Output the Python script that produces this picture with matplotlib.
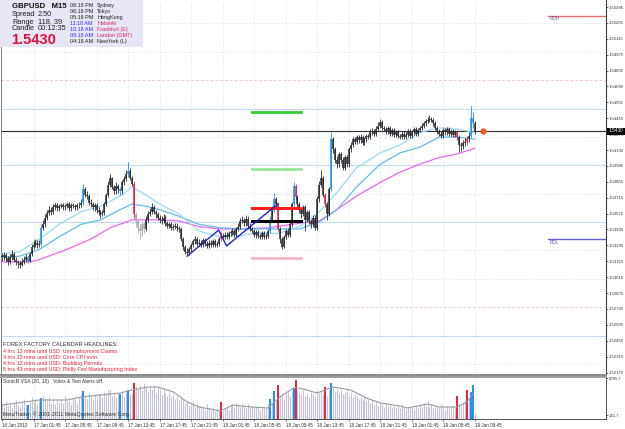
import numpy as np
import matplotlib
matplotlib.use("Agg")
import matplotlib.pyplot as plt
from matplotlib.patches import Rectangle

# ---------------- data ----------------
first_open = 1.5320
close = [
1.5319,1.5321,1.5318,1.5315,1.5319,1.5322,1.5317,1.5315,1.5314,1.5312,
1.5315,1.5317,1.5319,1.5316,1.5322,1.5328,1.5330,1.5332,1.5330,1.5331,
1.5345,1.5348,1.5354,1.5358,1.5361,1.5359,1.5363,1.5365,1.5362,1.5364,
1.5365,1.5363,1.5364,1.5366,1.5362,1.5365,1.5364,1.5363,1.5365,1.5365,
1.5367,1.5379,1.5374,1.5373,1.5367,1.5366,1.5363,1.5365,1.5361,1.5359,
1.5357,1.5358,1.5366,1.5374,1.5383,1.5389,1.5381,1.5377,1.5382,1.5379,
1.5377,1.5385,1.5388,1.5392,1.5395,1.5389,1.5384,1.5357,1.5351,1.5345,
1.5342,1.5348,1.5344,1.5352,1.5357,1.5359,1.5363,1.5359,1.5357,1.5354,
1.5352,1.5351,1.5354,1.5349,1.5347,1.5348,1.5345,1.5346,1.5347,1.5345,
1.5344,1.5335,1.5328,1.5324,1.5323,1.5326,1.5330,1.5333,1.5335,1.5331,
1.5332,1.5330,1.5334,1.5331,1.5329,1.5332,1.5330,1.5333,1.5330,1.5331,
1.5335,1.5338,1.5337,1.5339,1.5337,1.5340,1.5341,1.5342,1.5339,1.5344,
1.5346,1.5351,1.5352,1.5349,1.5353,1.5347,1.5344,1.5342,1.5339,1.5341,
1.5338,1.5337,1.5340,1.5337,1.5338,1.5342,1.5352,1.5361,1.5370,1.5366,
1.5344,1.5335,1.5328,1.5337,1.5342,1.5339,1.5348,1.5366,1.5382,1.5372,
1.5366,1.5361,1.5357,1.5363,1.5352,1.5359,1.5351,1.5348,1.5354,1.5345,
1.5370,1.5383,1.5389,1.5374,1.5366,1.5357,1.5379,1.5423,1.5414,1.5405,
1.5401,1.5410,1.5405,1.5398,1.5407,1.5401,1.5414,1.5418,1.5423,1.5421,
1.5425,1.5422,1.5425,1.5420,1.5423,1.5426,1.5425,1.5429,1.5430,1.5428,
1.5432,1.5435,1.5438,1.5433,1.5432,1.5430,1.5433,1.5428,1.5431,1.5427,
1.5429,1.5426,1.5425,1.5428,1.5425,1.5427,1.5430,1.5426,1.5429,1.5432,
1.5428,1.5431,1.5433,1.5435,1.5437,1.5439,1.5440,1.5441,1.5440,1.5437,
1.5433,1.5430,1.5428,1.5426,1.5431,1.5429,1.5432,1.5428,1.5430,1.5427,
1.5429,1.5425,1.5418,1.5417,1.5420,1.5421,1.5423,1.5426,1.5442,1.5437,
1.5430]
high = [
1.5323,1.5324,1.5323,1.5320,1.5322,1.5325,1.5324,1.5319,1.5317,1.5316,
1.5318,1.5320,1.5322,1.5321,1.5324,1.5331,1.5334,1.5335,1.5334,1.5334,
1.5348,1.5352,1.5357,1.5361,1.5364,1.5363,1.5366,1.5367,1.5367,1.5366,
1.5367,1.5367,1.5366,1.5368,1.5368,1.5367,1.5367,1.5366,1.5367,1.5368,
1.5370,1.5384,1.5381,1.5377,1.5375,1.5370,1.5368,1.5367,1.5367,1.5363,
1.5361,1.5361,1.5368,1.5376,1.5386,1.5392,1.5390,1.5383,1.5385,1.5384,
1.5381,1.5387,1.5391,1.5396,1.5403,1.5398,1.5391,1.5386,1.5359,1.5353,
1.5348,1.5351,1.5350,1.5355,1.5360,1.5362,1.5367,1.5365,1.5361,1.5359,
1.5356,1.5355,1.5357,1.5356,1.5351,1.5350,1.5350,1.5348,1.5349,1.5349,
1.5347,1.5346,1.5337,1.5330,1.5327,1.5328,1.5332,1.5335,1.5338,1.5337,
1.5335,1.5334,1.5336,1.5336,1.5333,1.5334,1.5334,1.5335,1.5335,1.5333,
1.5337,1.5341,1.5340,1.5341,1.5341,1.5342,1.5343,1.5345,1.5344,1.5346,
1.5349,1.5354,1.5355,1.5354,1.5356,1.5355,1.5349,1.5346,1.5344,1.5343,
1.5343,1.5340,1.5342,1.5342,1.5340,1.5344,1.5355,1.5364,1.5376,1.5372,
1.5368,1.5346,1.5337,1.5339,1.5344,1.5345,1.5350,1.5368,1.5385,1.5384,
1.5374,1.5368,1.5363,1.5365,1.5365,1.5361,1.5361,1.5353,1.5356,1.5356,
1.5373,1.5386,1.5396,1.5391,1.5376,1.5368,1.5381,1.5429,1.5425,1.5416,
1.5408,1.5412,1.5412,1.5407,1.5409,1.5409,1.5416,1.5421,1.5425,1.5425,
1.5427,1.5427,1.5428,1.5427,1.5425,1.5428,1.5428,1.5432,1.5433,1.5432,
1.5435,1.5438,1.5441,1.5440,1.5435,1.5434,1.5435,1.5435,1.5433,1.5433,
1.5431,1.5431,1.5428,1.5430,1.5430,1.5429,1.5432,1.5432,1.5431,1.5434,
1.5434,1.5433,1.5435,1.5437,1.5439,1.5441,1.5443,1.5444,1.5443,1.5442,
1.5439,1.5435,1.5432,1.5430,1.5433,1.5433,1.5434,1.5434,1.5432,1.5432,
1.5431,1.5431,1.5427,1.5421,1.5422,1.5424,1.5426,1.5429,1.5452,1.5447,
1.5439]
low = [
1.5316,1.5317,1.5315,1.5312,1.5313,1.5317,1.5315,1.5312,1.5310,1.5310,
1.5311,1.5313,1.5315,1.5314,1.5315,1.5320,1.5326,1.5328,1.5327,1.5328,
1.5329,1.5343,1.5346,1.5352,1.5356,1.5356,1.5357,1.5361,1.5360,1.5360,
1.5362,1.5361,1.5361,1.5362,1.5360,1.5360,1.5362,1.5361,1.5361,1.5362,
1.5363,1.5365,1.5372,1.5370,1.5365,1.5363,1.5361,1.5360,1.5358,1.5356,
1.5354,1.5355,1.5356,1.5364,1.5372,1.5381,1.5379,1.5375,1.5375,1.5376,
1.5374,1.5375,1.5383,1.5386,1.5390,1.5387,1.5382,1.5354,1.5346,1.5340,
1.5335,1.5338,1.5340,1.5342,1.5350,1.5355,1.5357,1.5357,1.5354,1.5352,
1.5349,1.5348,1.5349,1.5347,1.5345,1.5345,1.5343,1.5343,1.5344,1.5342,
1.5341,1.5333,1.5325,1.5322,1.5321,1.5321,1.5324,1.5328,1.5331,1.5329,
1.5329,1.5328,1.5328,1.5329,1.5327,1.5327,1.5328,1.5328,1.5328,1.5328,
1.5329,1.5333,1.5335,1.5335,1.5335,1.5335,1.5338,1.5339,1.5337,1.5337,
1.5342,1.5344,1.5349,1.5347,1.5347,1.5345,1.5342,1.5340,1.5337,1.5336,
1.5336,1.5335,1.5335,1.5335,1.5335,1.5336,1.5340,1.5350,1.5359,1.5363,
1.5342,1.5332,1.5326,1.5327,1.5335,1.5337,1.5337,1.5346,1.5364,1.5370,
1.5363,1.5358,1.5354,1.5355,1.5342,1.5350,1.5348,1.5345,1.5346,1.5343,
1.5343,1.5368,1.5381,1.5372,1.5363,1.5352,1.5355,1.5377,1.5411,1.5402,
1.5398,1.5399,1.5402,1.5396,1.5396,1.5399,1.5399,1.5412,1.5416,1.5419,
1.5419,1.5420,1.5420,1.5418,1.5418,1.5421,1.5423,1.5423,1.5427,1.5426,
1.5426,1.5430,1.5433,1.5431,1.5430,1.5428,1.5428,1.5426,1.5426,1.5425,
1.5425,1.5424,1.5423,1.5423,1.5423,1.5423,1.5425,1.5424,1.5424,1.5427,
1.5426,1.5426,1.5429,1.5431,1.5433,1.5435,1.5437,1.5438,1.5438,1.5435,
1.5431,1.5428,1.5426,1.5424,1.5424,1.5427,1.5427,1.5426,1.5426,1.5425,
1.5425,1.5422,1.5412,1.5413,1.5414,1.5417,1.5418,1.5421,1.5424,1.5433,
1.5428]

vsa_up = [13, 20, 41, 60, 64, 136, 138, 148, 167, 238, 239]
vsa_down = [67, 111, 140, 149, 164, 231, 236]
pale_bars = [68, 69, 70, 71, 72]

ma_bars = [0, 9, 19, 29, 40, 50, 60, 66, 73, 80, 90, 100, 111, 121, 131, 140,
           151, 161, 170, 180, 192, 202, 212, 222, 231, 240]
ma_fast = [1.5322, 1.5324, 1.5335, 1.5348, 1.5359, 1.5364, 1.5373, 1.5381, 1.5374,
           1.5366, 1.5357, 1.5342, 1.5337, 1.5338, 1.5341, 1.5340, 1.5346, 1.5359,
           1.5376, 1.5398, 1.5411, 1.5418, 1.5429, 1.5433, 1.5432, 1.5429]
ma_mid = [1.5319, 1.5320, 1.5326, 1.5337, 1.5348, 1.5352, 1.5361, 1.5366, 1.5364,
          1.5361, 1.5355, 1.5348, 1.5345, 1.5344, 1.5344, 1.5344, 1.5344, 1.5350,
          1.5361, 1.5381, 1.5401, 1.5411, 1.5416, 1.5425, 1.5425, 1.5423]
ma_slow_bars = [0, 14, 19, 33, 45, 55, 66, 80, 90, 100, 111, 121, 135, 151, 161,
                170, 180, 192, 202, 212, 222, 231, 240]
ma_slow = [1.5315, 1.5315, 1.5317, 1.5326, 1.5335, 1.5345, 1.5352, 1.5352, 1.5351,
           1.5346, 1.5344, 1.5344, 1.5345, 1.5349, 1.5351, 1.5361, 1.5373, 1.5385,
           1.5394, 1.5401, 1.5407, 1.5410, 1.5415]

volume = [
900, 700, 1100, 800, 950, 600, 1000, 1200, 850, 700,
1000, 1300, 900, 840, 1100, 1400, 1000, 1250, 900, 1150,
1340, 1500, 1300, 1100, 1400, 1000, 1250, 900, 1200, 1050,
1300, 1000, 1450, 1100, 1200, 950, 1350, 1250, 1000, 1400,
1600, 1840, 1500, 1300, 1700, 1450, 1200, 1600, 1350, 1550,
1700, 1400, 1800, 1600, 1900, 2000, 1500, 1650, 1400, 1700,
1630, 1800, 1500, 1750, 1910, 1600, 1700, 2410, 2200, 2000,
2300, 1900, 2400, 2100, 1800, 2200, 2000, 2300, 1700, 2100,
1900, 1600, 2000, 1700, 1500, 1800, 1400, 1600, 1300, 1500,
1200, 1500, 1300, 1000, 1100, 800, 900, 1100, 700, 900,
800, 600, 700, 500, 900, 600, 500, 700, 400, 600,
500, 1060, 400, 600, 700, 500, 800, 900, 700, 1000,
900, 700, 1000, 800, 600, 900, 700, 800, 600, 750,
700, 500, 800, 600, 650, 900, 1270, 1000, 1840, 1100,
2270, 1500, 1700, 1300, 1600, 1800, 1500, 1900, 2050, 2620,
2000, 1800, 1600, 1900, 1500, 1700, 1400, 1800, 1600, 1500,
1900, 1700, 1800, 1600, 2125, 1500, 1900, 2410, 2100, 1800,
2000, 1700, 1900, 1600, 1800, 2000, 1500, 1700, 1400, 1600,
1500, 1300, 1400, 1200, 1500, 1100, 1300, 1000, 1200, 900,
1100, 800, 1000, 900, 700, 1000, 800, 900, 600, 800,
700, 800, 600, 900, 700, 500, 800, 600, 700, 500,
800, 600, 900, 700, 1000, 800, 1100, 700, 900, 600,
800, 700, 600, 900, 700, 500, 800, 600, 700, 800,
600, 1490, 900, 800, 1000, 1200, 1910, 1300, 1770, 2270,
270]
vol_ma_bars = [0, 19, 33, 40, 50, 60, 66, 74, 79, 87, 94, 100, 111, 117, 127, 135,
               141, 148, 151, 160, 168, 177, 185, 192, 202, 206, 216, 222, 231, 236, 239]
vol_ma = [840, 1200, 1200, 1410, 1560, 1700, 1910, 2125, 2125, 1770, 1060, 700, 420,
          840, 700, 630, 1410, 2050, 2050, 1700, 2125, 1910, 1340, 990, 770, 630, 915,
          700, 700, 1060, 1630]

time_label_bars = [0, 16, 32, 48, 64, 80, 96, 112, 128, 144, 160, 176, 192, 208, 224, 240]
time_labels = ["16 Jan 2012", "17 Jan 01:45", "17 Jan 05:45", "17 Jan 09:45",
               "17 Jan 13:45", "17 Jan 17:45", "17 Jan 21:45", "18 Jan 01:45",
               "18 Jan 05:45", "18 Jan 09:45", "18 Jan 13:45", "18 Jan 17:45",
               "18 Jan 21:45", "19 Jan 01:45", "19 Jan 05:45", "19 Jan 09:45"]
price_ticks = [1.52175, 1.52315, 1.52455, 1.52595, 1.52735, 1.52875, 1.53015, 1.53155,
               1.53295, 1.53435, 1.53575, 1.53715, 1.53855, 1.53995, 1.54135, 1.54275,
               1.54415, 1.54555, 1.54695, 1.54835, 1.54975, 1.55115, 1.55255, 1.55395]
vol_ticks = [131.7, 2765.7]

bid = 1.5430
rdh, rdl = 1.5532, 1.5335
zone_bars = [127, 152]
zone_levels = [1.5447, 1.5397, 1.5362, 1.5351, 1.5318]
zigzag_bars = [94, 110, 114, 140]
zigzag_prices = [1.5320, 1.5343, 1.5329, 1.5366]
round_levels = [1.5225, 1.5250, 1.5275, 1.5300, 1.5325, 1.5350, 1.5375,
                1.5400, 1.5425, 1.5450, 1.5475, 1.5500, 1.5525]

info_left = [("Spread", "2.50"), ("Range", "118, 39"), ("Candle", "00:12:35")]
clocks = [("08:18 PM", "Sydney"), ("06:18 PM", "Tokyo"), ("05:18 PM", "HongKong"),
          ("11:18 AM", "Helsinki"), ("10:18 AM", "Frankfurt (E)"),
          ("09:18 AM", "London (GMT)"), ("04:18 AM", "NewYork (L)")]
calendar = ["4 hrs 13 mins until USD: Unemployment Claims",
            "4 hrs 13 mins until USD: Core CPI m/m",
            "4 hrs 13 mins until USD: Building Permits",
            "5 hrs 43 mins until USD: Philly Fed Manufacturing Index"]

# ---------------- figure ----------------
W, H = 625, 429
fig = plt.figure(figsize=(6.25, 4.29), dpi=100)
fig.patch.set_facecolor("white")
NARROW = ["Liberation Sans Narrow", "Liberation Sans", "DejaVu Sans"]
SANS = ["Liberation Sans", "DejaVu Sans"]

ax = fig.add_axes([1 / W, 1 - 375 / H, 605 / W, 375 / H])
axv = fig.add_axes([1 / W, 1 - 419 / H, 605 / W, 42 / H])
XL = (-0.5, 306.6)

idx = np.arange(len(close))
c = np.array(close)
o = np.array([first_open] + close[:-1])

# round-number lines
for lv in round_levels:
    k = int(round(lv * 10000)) % 100
    if k == 50 or lv == 1.5400:
        ax.axhline(lv, color="#c6daf0", lw=0.8, zorder=1)
    elif lv in (1.5475, 1.5275):
        ax.axhline(lv, color="#f2c6dc", lw=0.7, ls=(0, (3, 2)), zorder=1)
    else:
        ax.axhline(lv, color="#d4d4e8", lw=0.6, ls=(0, (1, 2)), zorder=1)
# vertical grid
for b in time_label_bars[1:]:
    ax.axvline(b, color="#d4d4e8", lw=0.6, ls=(0, (1, 2)), zorder=1)
    axv.axvline(b, color="#d4d4e8", lw=0.6, ls=(0, (1, 2)), zorder=1)

# current price line
ax.axhline(bid, color="#303030", lw=0.8, zorder=2)

# moving averages
ax.plot(ma_slow_bars, ma_slow, color="#ee66ee", lw=0.9, zorder=3)
ax.plot(ma_bars, ma_mid, color="#60bce8", lw=0.9, zorder=3)
ax.plot(ma_bars, ma_fast, color="#9ad8f4", lw=0.9, zorder=3)

# candles
cols = []
for i in idx:
    if i in vsa_up:
        cols.append("#1e8ff0")
    elif i in vsa_down:
        cols.append("#e8203c")
    elif i in pale_bars:
        cols.append("#a8a8b0")
    else:
        cols.append("#2a2a30")
ax.vlines(idx, low, high, colors=cols, lw=0.6, zorder=4)
ax.vlines(idx, np.minimum(o, c), np.maximum(o, c), colors=cols, lw=1.1, zorder=4)

# zone lines
ax.plot(zone_bars, [zone_levels[0]] * 2, color="#33cc33", lw=2.0, zorder=5)
ax.plot(zone_bars, [zone_levels[1]] * 2, color="#99e699", lw=2.0, zorder=5)
ax.plot(zone_bars, [zone_levels[2]] * 2, color="#ff2020", lw=2.2, zorder=5)
ax.plot(zone_bars, [zone_levels[3]] * 2, color="#000000", lw=2.2, zorder=5)
ax.plot(zone_bars, [zone_levels[4]] * 2, color="#f5b5c5", lw=2.0, zorder=5)

# zigzag
ax.plot(zigzag_bars, zigzag_prices, color="#2020d0", lw=1.0, zorder=5)

# RDH / RDL
ax.plot([277, 306.6], [rdh, rdh], color="#f07070", lw=1.0, zorder=5)
ax.plot([277, 306.6], [rdl, rdl], color="#6060e0", lw=1.0, zorder=5)
ax.text(278, rdh - 0.0003, "RDH", fontsize=3.3, color="#5050a0", va="center",
        family=SANS, zorder=6)
ax.text(278, rdl - 0.0003, "RDL", fontsize=3.3, color="#5050a0", va="center",
        family=SANS, zorder=6)

# last price dot
ax.scatter([244.2], [bid], s=20, color="#f05a1e", zorder=7, linewidths=0)

ax.set_xlim(*XL)
ax.set_ylim(1.52153, 1.55457)
ax.set_xticks([])
ax.yaxis.tick_right()
ax.set_yticks(price_ticks)
ax.set_yticklabels(["%.5f" % p for p in price_ticks])
ax.tick_params(axis="y", length=1.2, width=0.5, pad=0.5, labelsize=3.1,
               colors="#303030")
for lab in ax.get_yticklabels():
    lab.set_family(NARROW)
ax.spines["top"].set_visible(False)
ax.spines["left"].set_color("#707070")
ax.spines["left"].set_linewidth(0.6)
ax.spines["right"].set_color("#404040")
ax.spines["right"].set_linewidth(0.8)
ax.spines["bottom"].set_color("#8a8a8a")
ax.spines["bottom"].set_linewidth(1.4)

# ---------------- indicator ----------------
vfloor = -153
vcols = []
vlw = []
for i in idx:
    if i in vsa_up:
        vcols.append("#1e8ff0"); vlw.append(1.4)
    elif i in vsa_down:
        vcols.append("#e8203c"); vlw.append(1.4)
    else:
        vcols.append("#c4c4d2"); vlw.append(0.8)
axv.vlines(idx, vfloor, volume, colors=vcols, linewidths=vlw, zorder=3)
axv.plot(vol_ma_bars, vol_ma, color="#9a9aa4", lw=0.8, zorder=4)
axv.set_xlim(*XL)
axv.set_ylim(vfloor, 2837)
axv.yaxis.tick_right()
axv.set_yticks(vol_ticks)
axv.set_yticklabels(["%.1f" % v for v in vol_ticks])
axv.tick_params(axis="y", length=1.2, width=0.5, pad=0.5, labelsize=3.1,
                colors="#303030")
axv.set_xticks(time_label_bars)
axv.set_xticklabels(time_labels)
axv.tick_params(axis="x", length=1.5, width=0.5, pad=1.5, labelsize=3.3,
                colors="#303030")
for lab in axv.get_xticklabels():
    lab.set_ha("left")
    lab.set_family(NARROW)
for lab in axv.get_yticklabels():
    lab.set_family(NARROW)
for s in axv.spines.values():
    s.set_color("#505050")
    s.set_linewidth(0.7)
axv.spines["top"].set_color("#8a8a8a")
axv.spines["top"].set_linewidth(1.2)

# ---------------- overlay texts ----------------
ov = fig.add_axes([0, 0, 1, 1], zorder=10)
ov.set_xlim(0, W)
ov.set_ylim(H, 0)
ov.axis("off")
ov.add_patch(Rectangle((0, 0), 143, 47, facecolor="#e6e6f4", edgecolor="none"))
ov.text(12, 6, "GBPUSD   M15", fontsize=5.6, weight="bold",
        va="center", family=SANS, color="#101010")
for k, (lab, val) in enumerate(info_left):
    yy = 15 + 7 * k
    ov.text(12, yy, lab, fontsize=5.3, va="center", family=SANS, color="#202020")
    ov.text(38, yy, val, fontsize=5.3, va="center", family=SANS, color="#202020")
ov.text(11, 39.5, "%.4f" % bid, fontsize=10.5, weight="bold", va="center",
        family=SANS, color="#e0103c")
for k, (t, city) in enumerate(clocks):
    yy = 5.7 + 5.9 * k
    if 3 <= k <= 5:
        tc, cc = "#3030f0", "#e02060"
    else:
        tc, cc = "#202020", "#202020"
    ov.text(70, yy, t, fontsize=3.9, va="center", family=SANS, color=tc)
    ov.text(97, yy, city, fontsize=3.9, va="center", family=SANS, color=cc)

ov.text(3, 344, "FOREX FACTORY CALENDAR HEADLINES:", fontsize=4.1, va="center",
        family=SANS, color="#303030")
for k, line in enumerate(calendar):
    ov.text(3, 351.5 + 6 * k, line, fontsize=3.9, va="center", family=SANS,
            color="#e8203c")
ov.text(3, 381, "SonicR VSA (20, 10)   Volex & Text Alerts off.", fontsize=3.6,
        va="center", family=SANS, color="#303030")
ov.text(3, 414.5, "MetaTrader, \u00a9 2001-2011 MetaQuotes Software Corp.",
        fontsize=3.8, va="center", family=SANS, color="#303030")
# price tag on axis
ov.add_patch(Rectangle((607, 127.5), 18, 7, facecolor="#000000", edgecolor="none"))
ov.text(608.5, 131, "%.4f" % bid, fontsize=3.4, va="center", family=NARROW,
        color="white")

fig.savefig("out.png", dpi=100, facecolor="white")
